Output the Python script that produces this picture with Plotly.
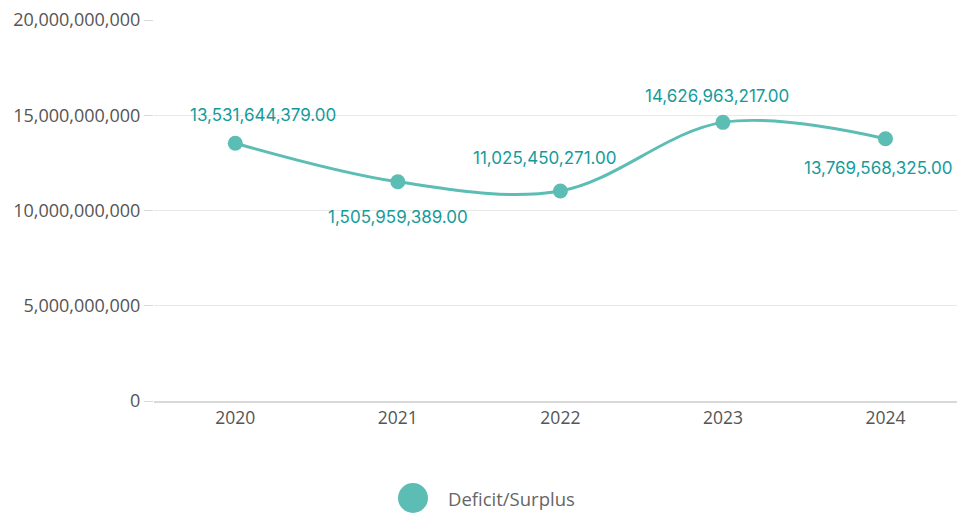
import plotly.graph_objects as go

years = ["2020", "2021", "2022", "2023", "2024"]
values = [13531644379, 11505959389, 11025450271, 14626963217, 13769568325]
value_labels = ["13,531,644,379.00", "1,505,959,389.00", "11,025,450,271.00",
                "14,626,963,217.00", "13,769,568,325.00"]
series_name = "Deficit/Surplus"
y_ticks = [0, 5000000000, 10000000000, 15000000000, 20000000000]

label_shift_y = [28, -35, 33, 26, -29]
label_shift_x = [28, 0, -15, -6, -7]

line_color = "#5bbdb3"
label_color = "#139b9b"

fig = go.Figure()
fig.add_trace(go.Scatter(
    x=years, y=values, mode="lines+markers", name=series_name,
    line=dict(color=line_color, width=3, shape="spline", smoothing=1),
    marker=dict(color=line_color, size=15),
    showlegend=False, hoverinfo="x+y",
))

for i, (v, t, dy, dx) in enumerate(zip(values, value_labels, label_shift_y, label_shift_x)):
    fig.add_annotation(x=i, y=v, text=t, showarrow=False, yshift=dy, xshift=dx,
                       font=dict(family="Inter", size=17, color=label_color))

# manual legend
fig.add_shape(type="circle", xref="paper", yref="paper",
              x0=(398 - 154) / 803, x1=(428 - 154) / 803,
              y0=(401 - 513) / 381, y1=(401 - 483) / 381,
              fillcolor=line_color, line=dict(width=0))
fig.add_annotation(xref="paper", yref="paper", x=(446 - 154) / 803, y=(401 - 498) / 381,
                   xanchor="left", yanchor="middle", showarrow=False, text=series_name,
                   font=dict(family="Open Sans", size=18.5, color="#666666"))

fig.update_layout(
    width=957, height=514,
    margin=dict(l=154, r=0, t=20, b=113),
    plot_bgcolor="white", paper_bgcolor="white",
    font=dict(family="Open Sans", size=17, color="#555555"),
    xaxis=dict(type="category", range=[-0.5, 4.44], showgrid=False,
               showline=True, linecolor="#d9d9d9", linewidth=2,
               ticks="", tickfont=dict(size=17.5, color="#555555")),
    yaxis=dict(range=[0, 20000000000], tickvals=y_ticks, tickformat=",d",
               showgrid=True, gridcolor="#e8e8e8", gridwidth=1,
               zeroline=False, showline=False,
               ticks="outside", ticklen=9, tickcolor="#d9d9d9",
               tickfont=dict(size=18, color="#555555")),
    showlegend=False,
)

fig.write_html("out.html", config={"displayModeBar": False},
               post_script="document.body.style.margin='0';")
